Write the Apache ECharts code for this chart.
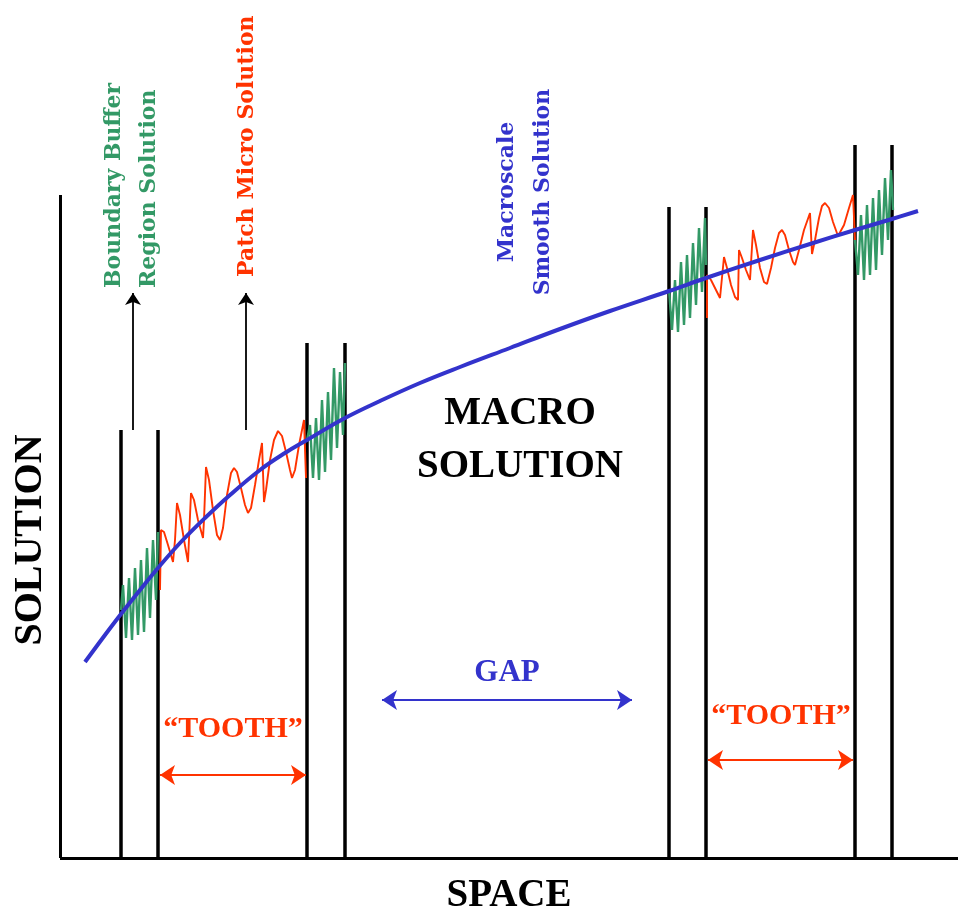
<!DOCTYPE html>
<html>
<head>
<meta charset="utf-8">
<script src="https://cdn.jsdelivr.net/npm/echarts@6/dist/echarts.min.js"></script>
<style>
html,body{margin:0;padding:0;background:#fff;}
#chart{width:958px;height:916px;}
</style>
</head>
<body>
<div id="chart"></div>
<script>
// ---- data (x = space, y = solution; arbitrary units) ----
const axisYTop = 663;
const axisXEnd = 898;
const wallX   = [61, 98, 247, 285, 609, 646, 795, 832];
const wallTop = [428, 428, 515, 515, 651, 651, 713, 713];

const macroCurve = [[25,196],[45,223],[61,244],[80,268],[98,290],[120,315],[145,340],[170,363],[200,388],[225,405],[247,418],[285,440],[320,457],[360,475],[400,491],[450,510],[500,529],[550,547],[609,567],[646,580],[700,598],[750,614],[795,628],[832,639],[858,647]];

const patch1 = [[100,268],[101,328],[104,326],[108,313],[113,296],[115,318],[117,355],[120,343],[124,318],[128,296],[130,298],[131,365],[134,358],[138,338],[143,320],[144,338],[146,391],[149,378],[153,348],[157,323],[160,318],[163,330],[167,363],[171,385],[174,390],[177,386],[181,370],[185,353],[188,345],[191,350],[195,373],[199,398],[202,415],[204,356],[206,368],[210,398],[214,418],[218,427],[222,422],[226,406],[230,388],[232,380],[235,388],[239,413],[244,438],[246,380]];

const patch2 = [[647,540],[647,583],[651,578],[656,568],[660,560],[662,558],[664,601],[667,590],[671,573],[675,561],[678,558],[679,608],[682,600],[686,588],[690,578],[692,576],[693,628],[696,613],[700,590],[704,576],[707,574],[711,590],[715,610],[719,625],[722,628],[725,623],[729,608],[733,596],[735,593],[739,608],[744,628],[750,645],[752,604],[755,618],[759,640],[762,652],[765,655],[769,650],[773,636],[778,622],[780,620],[784,633],[789,650],[793,663],[795,618]];

const buffer1 = [[61,248],[63,273],[66,220],[69,280],[72,218],[75,290],[78,223],[81,298],[84,226],[87,310],[90,240],[93,318],[96,258],[98,326]];
const buffer2 = [[247,418],[250,433],[253,380],[256,440],[259,378],[262,458],[265,386],[268,466],[271,398],[274,490],[277,410],[280,486],[283,423],[285,495]];
const buffer3 = [[609,568],[612,528],[615,578],[618,526],[621,596],[624,533],[627,603],[630,540],[633,615],[636,553],[639,630],[642,566],[645,640],[646,593]];
const buffer4 = [[795,618],[798,583],[801,643],[804,578],[807,653],[810,583],[813,660],[816,588],[819,668],[822,603],[825,680],[828,618],[831,688],[833,648]];

const labelArrows = [[[73,428],[73,565]],[[186,428],[186,565]]];
const toothArrows = [[[100,83],[246,83]],[[648,98],[793,98]]];
const gapArrow    = [[322,158],[572,158]];

const GREEN = '#339966', RED = '#ff3300', BLUE = '#3333cc';

// ---- build options ----
const walls = wallX.map((x, i) => ({coords: [[x, 0], [x, wallTop[i]]]}));
const axesLines = [{coords: [[0, 0], [0, axisYTop]]}, {coords: [[0, 0], [axisXEnd, 0]]}];

function curve(data, color, width, z, smooth) {
  return {type: 'line', data: data, showSymbol: false, symbol: 'none', clip: false,
    smooth: smooth || false, z: z, lineStyle: {color: color, width: width}, silent: true};
}

const chart = echarts.init(document.getElementById('chart'), null, {renderer: 'canvas'});
const serif = '"Liberation Serif", "Times New Roman", serif';
const dserif = '"DejaVu Serif", serif';

chart.setOption({
  animation: false,
  backgroundColor: '#ffffff',
  grid: {left: 50, right: 0, top: 0, bottom: 48},
  xAxis: {type: 'value', min: -10, max: 898, show: false},
  yAxis: {type: 'value', min: -10, max: 858, show: false},
  series: [
    {type: 'lines', coordinateSystem: 'cartesian2d', data: axesLines, z: 1, silent: true,
      lineStyle: {color: '#000', width: 3, opacity: 1}},
    {type: 'lines', coordinateSystem: 'cartesian2d', data: walls, z: 2, silent: true,
      lineStyle: {color: '#000', width: 3.5, opacity: 1}},
    curve(buffer1, GREEN, 2.4, 3), curve(buffer2, GREEN, 2.4, 3),
    curve(buffer3, GREEN, 2.4, 3), curve(buffer4, GREEN, 2.4, 3),
    curve(patch1, RED, 1.9, 4), curve(patch2, RED, 1.9, 4),
    curve(macroCurve, BLUE, 4, 5, 0.4),
    {type: 'lines', coordinateSystem: 'cartesian2d', z: 6, silent: true,
      data: labelArrows.map(c => ({coords: c})),
      symbol: ['none', 'arrow'], symbolSize: 12,
      lineStyle: {color: '#000', width: 1.8, opacity: 1}},
    {type: 'lines', coordinateSystem: 'cartesian2d', z: 6, silent: true,
      data: toothArrows.map(c => ({coords: c})),
      symbol: ['arrow', 'arrow'], symbolSize: 15,
      lineStyle: {color: RED, width: 2, opacity: 1}},
    {type: 'lines', coordinateSystem: 'cartesian2d', z: 6, silent: true,
      data: [{coords: gapArrow}],
      symbol: ['arrow', 'arrow'], symbolSize: 15,
      lineStyle: {color: BLUE, width: 2, opacity: 1}}
  ],
  graphic: [
    {type: 'text', x: 132, y: 288, rotation: Math.PI / 2, z: 10,
      style: {text: 'Boundary Buffer\nRegion Solution', fill: GREEN, font: 'bold 22px ' + dserif,
        textAlign: 'left', textVerticalAlign: 'middle', lineHeight: 35}},
    {type: 'text', x: 247, y: 277, rotation: Math.PI / 2, z: 10,
      style: {text: 'Patch Micro Solution', fill: RED, font: 'bold 22px ' + dserif,
        textAlign: 'left', textVerticalAlign: 'middle'}},
    {type: 'text', x: 525, y: 192, rotation: Math.PI / 2, z: 10,
      style: {text: 'Macroscale\nSmooth Solution', fill: BLUE, font: 'bold 22px ' + dserif,
        textAlign: 'center', textVerticalAlign: 'middle', lineHeight: 36}},
    {type: 'text', x: 520, y: 440, z: 10,
      style: {text: 'MACRO\nSOLUTION', fill: '#000', font: 'bold 39px ' + serif,
        textAlign: 'center', textVerticalAlign: 'middle', lineHeight: 53}},
    {type: 'text', x: 507, y: 673, z: 10,
      style: {text: 'GAP', fill: BLUE, font: 'bold 31px ' + serif,
        textAlign: 'center', textVerticalAlign: 'middle'}},
    {type: 'text', x: 233, y: 729, z: 10,
      style: {text: '\u201CTOOTH\u201D', fill: RED, font: 'bold 30px ' + serif,
        textAlign: 'center', textVerticalAlign: 'middle'}},
    {type: 'text', x: 781, y: 716, z: 10,
      style: {text: '\u201CTOOTH\u201D', fill: RED, font: 'bold 30px ' + serif,
        textAlign: 'center', textVerticalAlign: 'middle'}},
    {type: 'text', x: 509, y: 896, z: 10,
      style: {text: 'SPACE', fill: '#000', font: 'bold 39px ' + serif,
        textAlign: 'center', textVerticalAlign: 'middle'}},
    {type: 'text', x: 31, y: 540, rotation: Math.PI / 2, z: 10,
      style: {text: 'SOLUTION', fill: '#000', font: 'bold 40px ' + serif,
        textAlign: 'center', textVerticalAlign: 'middle'}}
  ]
});
</script>
</body>
</html>
